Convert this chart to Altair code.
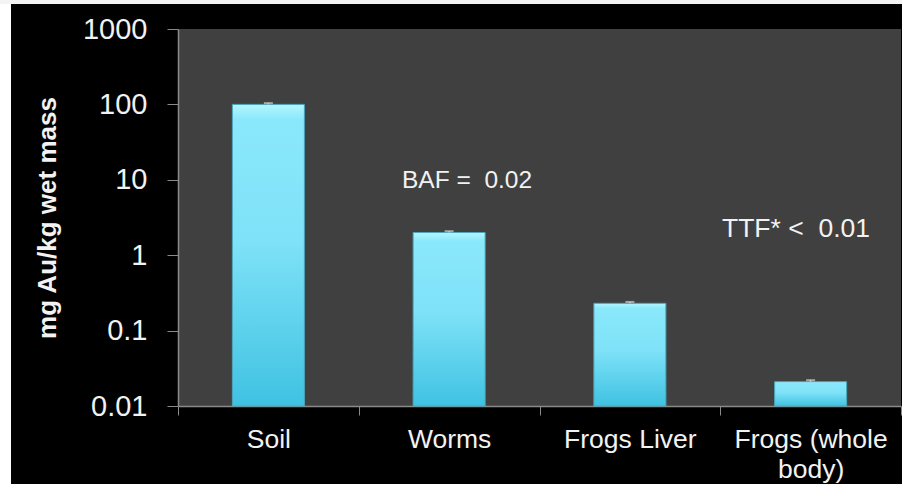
import altair as alt
import pandas as pd

# Gold concentration along the soil -> worm -> frog chain
categories = ["Soil", "Worms", "Frogs Liver", "Frogs (whole body)"]
concentration = [100, 2.0, 0.23, 0.021]
error = [4.0, 0.08, 0.01, 0.001]
y_ticks = [0.01, 0.1, 1, 10, 100, 1000]
y_floor = 0.01

df = pd.DataFrame({
    "group": categories,
    "value": concentration,
    "base": [y_floor] * len(categories),
    "upper": [v + e for v, e in zip(concentration, error)],
})

W, H = 723, 377
FONT = "Liberation Sans"
TXT = "#f2f2f2"
AXIS_GRAY = "#8a8a8a"

x_scale = alt.Scale(paddingInner=0, paddingOuter=0)

x_enc = alt.X(
    "group:N",
    sort=categories,
    scale=x_scale,
    axis=alt.Axis(
        title=None,
        labelAngle=0,
        labelFont=FONT,
        labelFontSize=26.5,
        labelColor=TXT,
        labelPadding=11,
        labelLineHeight=30,
        labelExpr="datum.value == 'Frogs (whole body)' ? ['Frogs (whole', 'body)'] : datum.value",
        tickBand="extent",
        tickSize=9,
        tickColor=AXIS_GRAY,
        domainColor=AXIS_GRAY,
        domainWidth=1.5,
    ),
)

y_scale = alt.Scale(type="log", domain=[0.01, 1000])

bars = alt.Chart(df).mark_bar(
    size=72,
    color=alt.Gradient(
        gradient="linear",
        stops=[
            alt.GradientStop(color="#b4f6ff", offset=0),
            alt.GradientStop(color="#8ae8fb", offset=0.05),
            alt.GradientStop(color="#7fe2f8", offset=0.45),
            alt.GradientStop(color="#3fc2e2", offset=1),
        ],
        x1=0, x2=0, y1=0, y2=1,
    ),
    stroke="#4aa6bb",
    strokeWidth=1,
).encode(
    x=x_enc,
    y=alt.Y(
        "value:Q",
        scale=y_scale,
        axis=alt.Axis(
            title="mg Au/kg wet mass",
            titleFont=FONT,
            titleFontSize=26,
            titleFontWeight="bold",
            titleColor=TXT,
            titlePadding=22,
            values=y_ticks,
            format="~g",
            labelFont=FONT,
            labelFontSize=29,
            labelColor=TXT,
            labelPadding=20,
            tickSize=11,
            tickColor=AXIS_GRAY,
            domainColor=AXIS_GRAY,
            domainWidth=1.5,
            grid=False,
        ),
    ),
    y2="base:Q",
)

whisker = alt.Chart(df).mark_rule(color="#cfcfcf", strokeWidth=1.5).encode(
    x=alt.X("group:N", sort=categories, scale=x_scale),
    y=alt.Y("value:Q", scale=y_scale),
    y2="upper:Q",
)

caps = alt.Chart(df).mark_tick(color="#d0d0d0", size=9, thickness=2).encode(
    x=alt.X("group:N", sort=categories, scale=x_scale),
    y=alt.Y("upper:Q", scale=y_scale),
)

notes = pd.DataFrame({"text": ["BAF = \u00a00.02", "TTF* < \u00a00.01"]})

baf = alt.Chart(notes.iloc[[0]]).mark_text(
    align="left", baseline="middle", font=FONT, fontSize=24.5, color=TXT
).encode(x=alt.value(224), y=alt.value(152), text="text:N")

ttf = alt.Chart(notes.iloc[[1]]).mark_text(
    align="left", baseline="middle", font=FONT, fontSize=26.5, color=TXT
).encode(x=alt.value(544), y=alt.value(200), text="text:N")

# light frame strips along the left and top edges of the slide
edge = alt.Chart(pd.DataFrame({"k": [0]})).mark_rect(color="#ffffff").encode(
    x=alt.value(-178), x2=alt.value(-167), y=alt.value(-29), y2=alt.value(455)
)
top_edge = alt.Chart(pd.DataFrame({"k": [0]})).mark_rect(color="#f4f4f4").encode(
    x=alt.value(-178), x2=alt.value(724), y=alt.value(-29), y2=alt.value(-25)
)

chart = alt.layer(bars, whisker, caps, baf, ttf, edge, top_edge).properties(
    width=W,
    height=H,
    background="#000000",
    padding={"left": 178, "top": 29, "right": 1, "bottom": 78},
    autosize=alt.AutoSizeParams(type="none"),
).configure_view(
    fill="#404040",
    stroke=None,
)

chart.save("out.html", embed_options={"renderer": "svg", "actions": False})
